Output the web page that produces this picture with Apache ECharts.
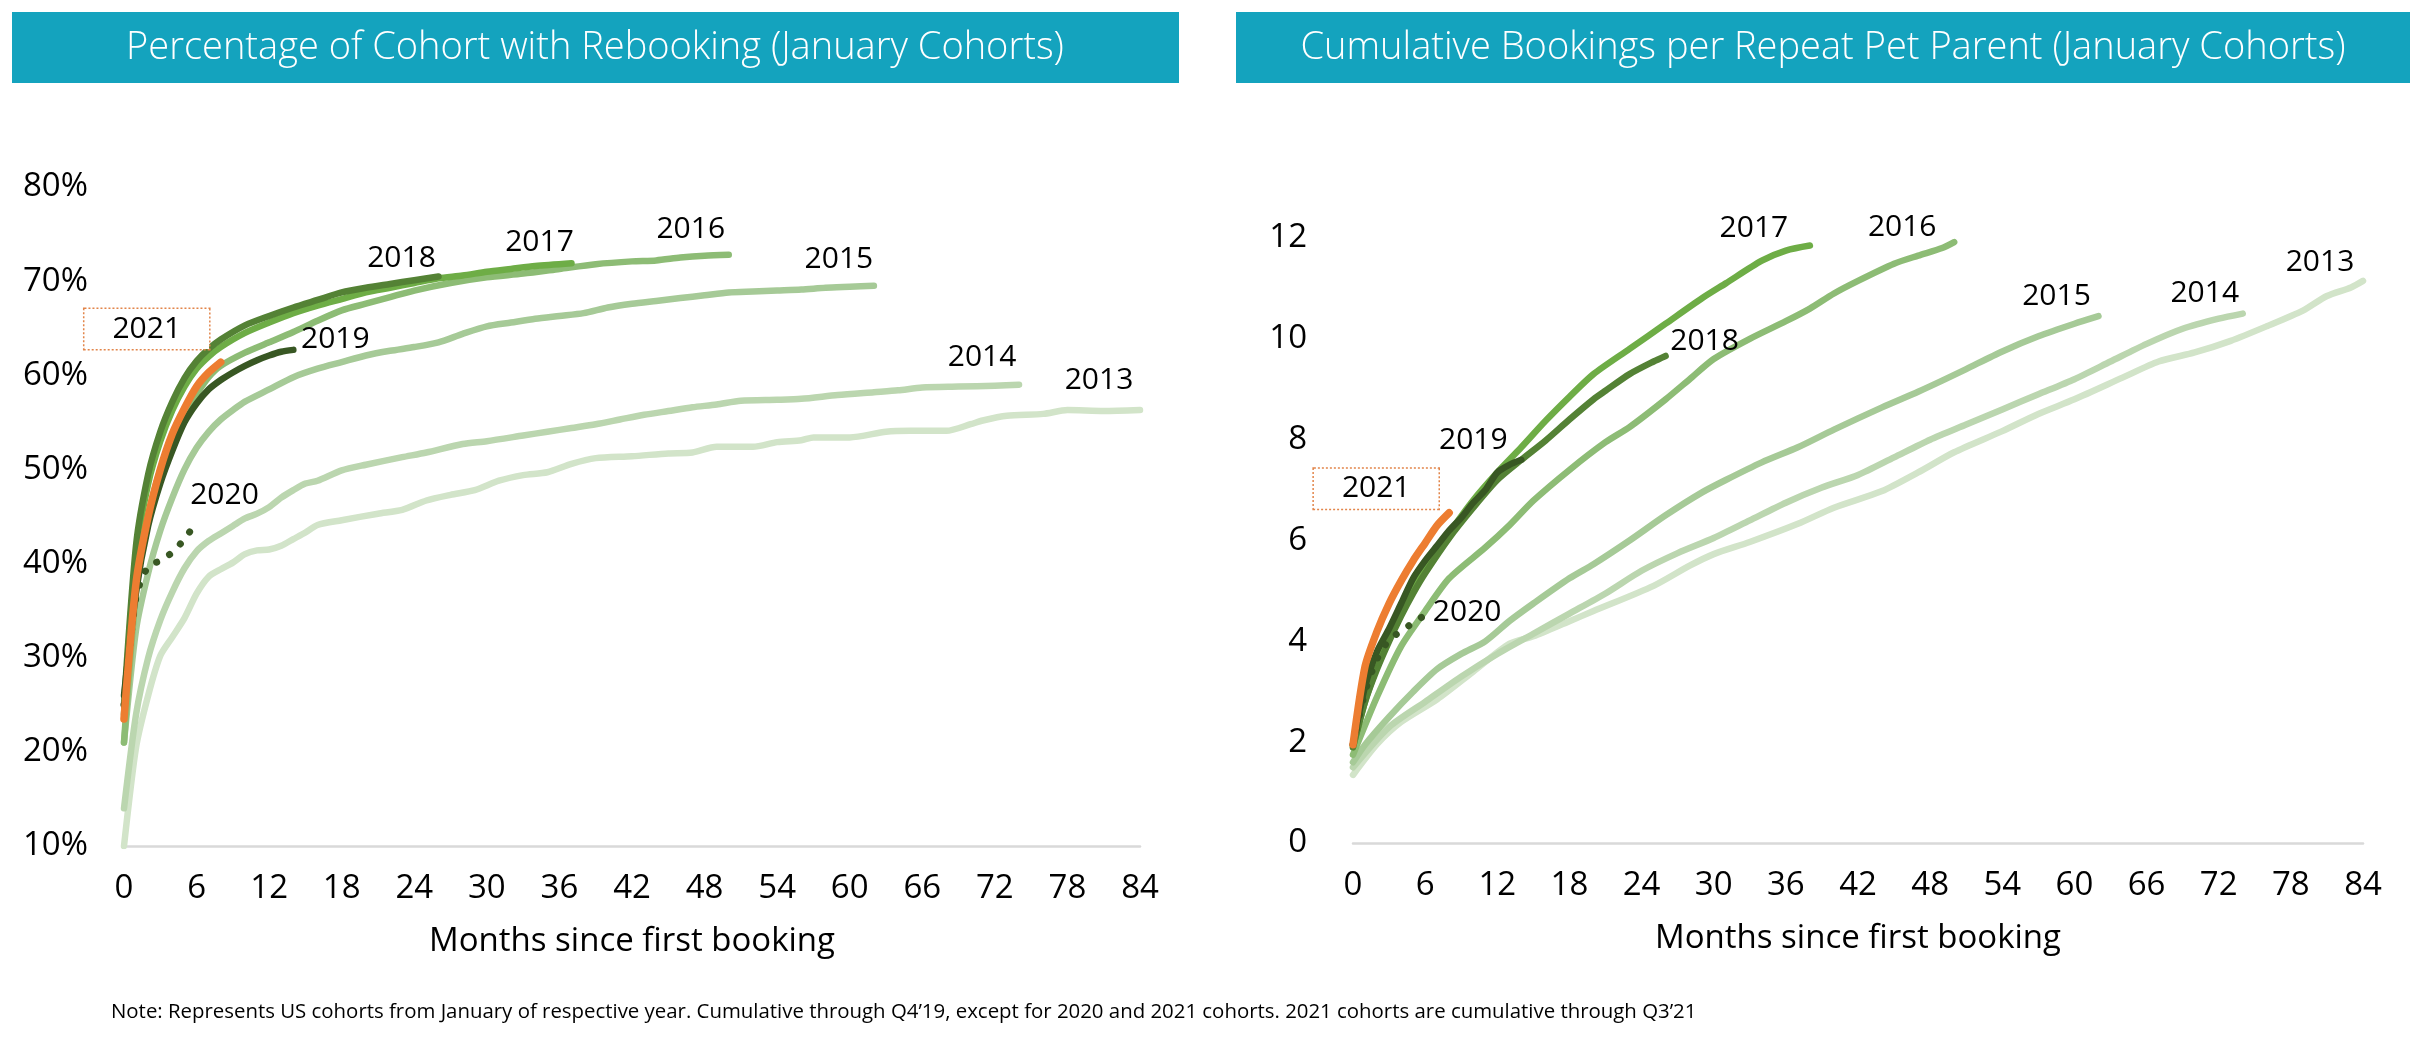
<!DOCTYPE html>
<html>
<head>
<meta charset="utf-8">
<script src="https://cdn.jsdelivr.net/npm/echarts@6/dist/echarts.min.js"></script>
<style>
html,body{margin:0;padding:0;background:#fff;}
#c{width:2422px;height:1040px;}
</style>
</head>
<body>
<div id="c"></div>
<script>
// ---------- Data ----------
const cohorts = ['2013','2014','2015','2016','2017','2018','2019','2020','2021'];
const monthTicks = [0,6,12,18,24,30,36,42,48,54,60,66,72,78,84];

// Percentage of cohort with rebooking, [month, %]
const rebook2013 = [[0,10],[1,20.5],[2,26],[3,30.2],[4,32.2],[5,34.2],[6,36.8],[7,38.6],[8,39.4],[9,40.1],[10,41],[11,41.4],[12,41.5],[13,41.9],[14,42.6],[15,43.3],[16,44.1],[18,44.6],[21,45.3],[23,45.7],[25,46.7],[27,47.3],[29,47.8],[31,48.8],[33,49.4],[35,49.7],[37,50.6],[39,51.2],[42,51.4],[45,51.7],[47,51.8],[49,52.4],[52,52.4],[54,52.9],[56,53.1],[57,53.4],[60,53.4],[63,54],[65,54.1],[68,54.1],[70,54.8],[71,55.2],[73,55.7],[76,55.9],[78,56.3],[81,56.2],[84,56.3]];
const rebook2014 = [[0,14],[1,24],[2,30],[3,34],[4,37],[5,39.5],[6,41.3],[7,42.4],[8,43.2],[9,44],[10,44.8],[11,45.3],[12,46],[13,47],[14,47.8],[15,48.5],[16,48.8],[18,49.9],[20,50.5],[23,51.3],[25,51.8],[28,52.7],[30,53],[33,53.6],[35,54],[37,54.4],[39,54.8],[41,55.3],[43,55.8],[45,56.2],[47,56.6],[49,56.9],[51,57.3],[54,57.4],[56,57.5],[59,57.9],[62,58.2],[64,58.4],[66,58.7],[69,58.8],[72,58.9],[74,59]];
const rebook2015 = [[0,21],[1,33],[2,39],[3,43.5],[4,47],[5,50],[6,52.3],[7,54],[8,55.3],[9,56.3],[10,57.2],[12,58.5],[14,59.8],[16,60.7],[18,61.4],[20,62.1],[22,62.6],[24,63],[26,63.5],[28,64.4],[30,65.2],[32,65.6],[34,66],[36,66.3],[38,66.6],[40,67.2],[42,67.6],[44,67.9],[46,68.2],[48,68.5],[50,68.8],[52,68.9],[54,69],[56,69.1],[58,69.3],[60,69.4],[62,69.5]];
const rebook2016 = [[0,21],[1,37],[2,45],[3,50],[4,53.5],[5,56],[6,58],[7,59.8],[8,61],[10,62.4],[12,63.5],[14,64.6],[16,65.8],[18,66.9],[20,67.6],[22,68.3],[24,69],[27,69.8],[30,70.4],[33,70.8],[36,71.3],[39,71.8],[42,72.1],[44,72.2],[46,72.5],[48,72.7],[50,72.8]];
const rebook2017 = [[0,24],[1,41],[2,48.5],[3,53],[4,56.3],[5,58.8],[6,60.7],[7,62],[8,63],[10,64.5],[12,65.6],[14,66.6],[16,67.4],[18,68.1],[20,68.8],[22,69.3],[24,69.8],[26,70.3],[28,70.6],[30,71],[32,71.3],[34,71.6],[37,71.9]];
const rebook2018 = [[0,25],[1,42],[2,49.5],[3,54],[4,57.2],[5,59.7],[6,61.5],[7,62.8],[8,63.8],[10,65.3],[12,66.3],[14,67.2],[16,68],[18,68.8],[20,69.3],[22,69.7],[24,70.1],[26,70.5]];
const rebook2019 = [[0,26],[1,37],[2,44],[3,48.5],[4,52],[5,55],[6,57],[7,58.5],[8,59.5],[9,60.3],[10,61],[11,61.6],[12,62.1],[13,62.5],[14,62.7]];
const rebook2020 = [[0,25],[1,36.5],[2,39.7],[3,40.3],[4,41.2],[5,42.6],[5.5,43.5]];
const rebook2021 = [[0,23.5],[1,38],[2,45],[3,50],[4,53.8],[5,56.5],[6,58.8],[7,60.3],[8,61.4]];

// Cumulative bookings per repeat pet parent, [month, bookings]
const book2013 = [[0,1.35],[2,1.96],[4,2.4],[7,2.85],[10,3.4],[13,3.95],[15,4.1],[18,4.4],[20,4.6],[25,5.1],[28,5.5],[30,5.73],[33,5.97],[37,6.33],[40,6.65],[44,6.98],[47,7.35],[50,7.75],[54,8.17],[57,8.51],[60,8.8],[64,9.23],[67,9.55],[70,9.73],[73,9.96],[76,10.25],[79,10.56],[81,10.85],[83,11.02],[84,11.15]];
const book2014 = [[0,1.5],[3,2.3],[6,2.8],[9,3.3],[12,3.75],[15,4.15],[18,4.55],[21,4.95],[24,5.4],[27,5.75],[30,6.05],[33,6.4],[36,6.75],[39,7.05],[42,7.3],[45,7.65],[48,8.0],[51,8.3],[54,8.6],[57,8.9],[60,9.2],[63,9.55],[66,9.9],[69,10.2],[72,10.4],[74,10.5]];
const book2015 = [[0,1.6],[1,1.95],[3,2.5],[5,3.0],[7,3.45],[9,3.75],[11,4.0],[13,4.4],[15,4.75],[18,5.25],[20,5.53],[23,6.0],[26,6.5],[29,6.95],[31,7.2],[34,7.55],[37,7.85],[40,8.2],[44,8.64],[47,8.95],[49,9.17],[51,9.4],[54,9.75],[57,10.05],[60,10.3],[62,10.45]];
const book2016 = [[0,1.75],[2,2.9],[4,3.9],[6,4.6],[8,5.25],[11,5.86],[13,6.3],[15,6.79],[18,7.4],[21,7.95],[23,8.25],[26,8.8],[28,9.2],[30,9.6],[33,10.0],[36,10.35],[38,10.6],[40,10.9],[42,11.15],[45,11.49],[47,11.65],[49,11.8],[50,11.92]];
const book2017 = [[0,1.9],[1,2.8],[2,3.5],[3,4.1],[4,4.6],[5,5.05],[6,5.45],[8,6.15],[10,6.8],[12,7.35],[14,7.85],[16,8.37],[18,8.85],[20,9.3],[23,9.8],[26,10.3],[29,10.8],[31,11.1],[34,11.55],[36,11.75],[38,11.85]];
const book2018 = [[0,1.9],[1,2.8],[2,3.45],[3,4.0],[4,4.5],[5,4.95],[6,5.35],[8,6.05],[10,6.65],[12,7.2],[14,7.6],[16,7.98],[18,8.4],[20,8.8],[21,8.97],[23,9.3],[25,9.55],[26,9.66]];
const book2019 = [[0,1.95],[1,3.1],[2,3.8],[3,4.25],[4,4.75],[5,5.25],[6,5.6],[7,5.9],[8,6.2],[9,6.45],[10,6.75],[11,7.0],[12,7.35],[13,7.5],[14,7.6]];
const book2020 = [[0,1.95],[1,3.0],[2,3.65],[3,4.03],[4,4.2],[5,4.37],[6,4.52]];
const book2021 = [[0,1.95],[1,3.5],[2,4.2],[3,4.75],[4,5.2],[5,5.6],[6,5.95],[7,6.3],[8,6.55]];

const leftTitle = 'Percentage of Cohort with Rebooking (January Cohorts)';
const rightTitle = 'Cumulative Bookings per Repeat Pet Parent (January Cohorts)';
const xName = 'Months since first booking';
const noteText = 'Note: Represents US cohorts from January of respective year. Cumulative through Q4\u201919, except for 2020 and 2021 cohorts. 2021 cohorts are cumulative through Q3\u201921';

// ---------- Styling ----------
const FONT = '"Open Sans", "Noto Sans", sans-serif';
const colors = {
  '2013':'#D2E4C9','2014':'#BBD6AF','2015':'#A6CA97','2016':'#8DBC75',
  '2017':'#6EAD46','2018':'#548235','2019':'#385723','2020':'#385723','2021':'#ED7D31'
};
const leftOffsets = {
  '2013':[-41,-30],'2014':[-37,-27],'2015':[-35,-26],'2016':[-38,-25],'2017':[-32,-21],
  '2018':[-37,-18],'2019':[42,-10],'2020':[34,-35],'2021':[-74,-33]
};
const rightOffsets = {
  '2013':[-43,-18],'2014':[-38,-20],'2015':[-42,-20],'2016':[-52,-15],'2017':[-56,-17],
  '2018':[39,-15],'2019':[-48,-19],'2020':[42,-3],'2021':[-73,-24]
};
const leftData = {'2013':rebook2013,'2014':rebook2014,'2015':rebook2015,'2016':rebook2016,'2017':rebook2017,'2018':rebook2018,'2019':rebook2019,'2020':rebook2020,'2021':rebook2021};
const rightData = {'2013':book2013,'2014':book2014,'2015':book2015,'2016':book2016,'2017':book2017,'2018':book2018,'2019':book2019,'2020':book2020,'2021':book2021};

function makeSeries(name, data, axisIdx, offset) {
  const isDot = name === '2020';
  const isBox = name === '2021';
  const last = data[data.length - 1];
  const lbl = {
    show: true, position: 'inside', offset: offset, formatter: name,
    color: '#000', fontSize: 30, fontFamily: FONT
  };
  if (isBox) {
    Object.assign(lbl, {
      borderColor: '#E2854A', borderWidth: 1.5, borderType: [2, 2],
      padding: [3, 28, 3, 28], lineHeight: 34, backgroundColor: '#fff'
    });
  }
  return {
    name: name, type: 'line', xAxisIndex: axisIdx, yAxisIndex: axisIdx,
    data: data, showSymbol: false, smooth: 0.25, animation: false,
    lineStyle: isDot
      ? {color: colors[name], width: 7, type: [0.1, 15], cap: 'round'}
      : {color: colors[name], width: name === '2021' ? 7.5 : 6.5, cap: 'round', join: 'round'},
    z: 2,
    markPoint: {
      symbol: 'circle', symbolSize: 1, silent: true, animation: false,
      itemStyle: {color: 'rgba(0,0,0,0)'},
      label: lbl,
      data: [{coord: last}]
    }
  };
}

const series = [];
cohorts.forEach(c => series.push(makeSeries(c, leftData[c], 0, leftOffsets[c])));
cohorts.forEach(c => series.push(makeSeries(c, rightData[c], 1, rightOffsets[c])));

const axisLabelStyle = {color: '#000', fontSize: 33, fontFamily: FONT};

function xAxisCfg(idx) {
  return {
    type: 'value', gridIndex: idx, min: 0, max: 84, interval: 6,
    axisLine: {show: true, lineStyle: {color: '#D9D9D9', width: 2.5}},
    axisTick: {show: false}, splitLine: {show: false},
    axisLabel: Object.assign({margin: 26}, axisLabelStyle),
    name: xName, nameLocation: 'middle', nameGap: 79,
    nameTextStyle: {color: '#000', fontSize: 33, fontFamily: FONT}
  };
}

const option = {
  backgroundColor: '#fff',
  animation: false,
  grid: [
    {left: 124, right: 1282, top: 187, bottom: 194},
    {left: 1353, right: 59, top: 238, bottom: 197}
  ],
  xAxis: [xAxisCfg(0), xAxisCfg(1)],
  yAxis: [
    {type: 'value', gridIndex: 0, min: 10, max: 80, interval: 10,
     axisLine: {show: false}, axisTick: {show: false}, splitLine: {show: false},
     axisLabel: Object.assign({margin: 36, formatter: '{value}%'}, axisLabelStyle)},
    {type: 'value', gridIndex: 1, min: 0, max: 12, interval: 2,
     axisLine: {show: false}, axisTick: {show: false}, splitLine: {show: false},
     axisLabel: Object.assign({margin: 46}, axisLabelStyle)}
  ],
  series: series,
  graphic: [
    {type: 'rect', shape: {x: 12, y: 12, width: 1167, height: 71}, style: {fill: '#14A3BE'}},
    {type: 'text', x: 595, y: 48, style: {text: leftTitle, fill: '#fff', textAlign: 'center', textVerticalAlign: 'middle', font: '300 38px "Open Sans", sans-serif'}},
    {type: 'rect', shape: {x: 1236, y: 12, width: 1174, height: 71}, style: {fill: '#14A3BE'}},
    {type: 'text', x: 1823, y: 48, style: {text: rightTitle, fill: '#fff', textAlign: 'center', textVerticalAlign: 'middle', font: '300 38px "Open Sans", sans-serif'}},
    {type: 'text', x: 111, y: 1012, style: {text: noteText, fill: '#000', textAlign: 'left', textVerticalAlign: 'middle', font: '20.4px "Open Sans", sans-serif'}}
  ]
};

const chart = echarts.init(document.getElementById('c'), null, {renderer: 'canvas'});
chart.setOption(option);
</script>
</body>
</html>
